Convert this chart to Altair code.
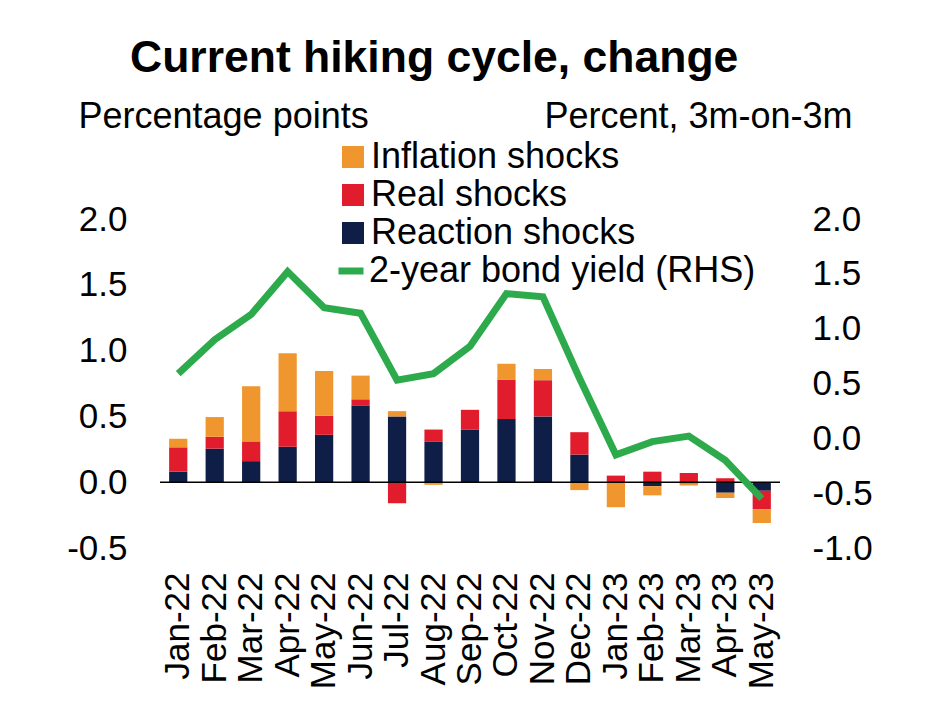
import altair as alt
import pandas as pd

months = ["Jan-22", "Feb-22", "Mar-22", "Apr-22", "May-22", "Jun-22", "Jul-22", "Aug-22",
          "Sep-22", "Oct-22", "Nov-22", "Dec-22", "Jan-23", "Feb-23", "Mar-23", "Apr-23", "May-23"]
reaction = [0.08, 0.255, 0.16, 0.27, 0.36, 0.58, 0.50, 0.31, 0.40, 0.48, 0.50, 0.21,
            0.0, -0.03, -0.01, -0.08, -0.065]
real = [0.185, 0.09, 0.15, 0.27, 0.145, 0.05, -0.16, 0.09, 0.15, 0.30, 0.275, 0.17,
        0.05, 0.08, 0.07, 0.03, -0.14]
inflation = [0.065, 0.15, 0.42, 0.44, 0.34, 0.18, 0.04, -0.02, 0.0, 0.12, 0.085, -0.06,
             -0.19, -0.07, -0.015, -0.04, -0.105]
bond_yield = [0.59, 0.90, 1.13, 1.52, 1.19, 1.14, 0.53, 0.59, 0.84, 1.32, 1.29, 0.55,
              -0.15, -0.03, 0.02, -0.20, -0.55]

series_names = ["Inflation shocks", "Real shocks", "Reaction shocks"]
series_colors = ["#F0962E", "#E11D2D", "#0F1E46"]
line_name = "2-year bond yield (RHS)"
line_color = "#2DAA4B"
left_ticks = [-0.5, 0.0, 0.5, 1.0, 1.5, 2.0]
right_ticks = [-1.0, -0.5, 0.0, 0.5, 1.0, 1.5, 2.0]

FONT = "Liberation Sans"
FS = 35
TFS = 36

rows = []
for i, m in enumerate(months):
    rows.append({"month": m, "series": "Reaction shocks", "value": reaction[i], "ord": 0})
    rows.append({"month": m, "series": "Real shocks", "value": real[i], "ord": 1})
    rows.append({"month": m, "series": "Inflation shocks", "value": inflation[i], "ord": 2})
bars_df = pd.DataFrame(rows)
line_df = pd.DataFrame({"month": months, "yield": bond_yield, "series": [line_name] * len(months)})

label_expr = "(datum.value < 0 ? '-' : '') + format(abs(datum.value), '.1f')"

x_enc = alt.X("month:N", sort=months,
              scale=alt.Scale(paddingInner=0.5, paddingOuter=0.25),
              axis=alt.Axis(title=None, labelAngle=-90, labelAlign="right", labelBaseline="middle",
                            labelPadding=24, ticks=False, domain=False, labelFontSize=FS,
                            labelFont=FONT, labelColor="black", labelLimit=300, grid=False))

left_axis = alt.Axis(values=left_ticks, labelExpr=label_expr, title="Percentage points",
                     titleAngle=0, titleAlign="left", titleBaseline="alphabetic",
                     titleX=-82, titleY=-92, titleFont=FONT, titleFontSize=TFS,
                     titleFontWeight="normal", titleColor="black",
                     labelFont=FONT, labelFontSize=FS, labelColor="black",
                     labelPadding=33, ticks=False, domain=False, grid=False)
left_scale = alt.Scale(domain=[-0.5, 2.0], nice=False, zero=False)

bars = alt.Chart(bars_df).mark_bar().encode(
    x=x_enc,
    y=alt.Y("value:Q", stack="zero", scale=left_scale, axis=left_axis),
    color=alt.Color("series:N",
                    scale=alt.Scale(domain=series_names, range=series_colors),
                    legend=alt.Legend(title=None, orient="none", legendX=175, legendY=-80,
                                      symbolType="square", symbolSize=484, symbolStrokeWidth=0,
                                      labelFont=FONT, labelFontSize=TFS, labelColor="black",
                                      labelLimit=600, labelOffset=0, rowPadding=2, padding=0)),
    order=alt.Order("ord:Q", sort="ascending"),
)

zero = alt.Chart(pd.DataFrame({"value": [0.0]})).mark_rule(color="black", strokeWidth=1.6).encode(
    y=alt.Y("value:Q", scale=left_scale, axis=left_axis)
)

left = alt.layer(bars, zero)

line = alt.Chart(line_df).mark_line(strokeWidth=7, strokeJoin="miter").encode(
    x=alt.X("month:N", sort=months),
    y=alt.Y("yield:Q",
            scale=alt.Scale(domain=[-1.0, 2.0], nice=False, zero=False),
            axis=alt.Axis(orient="right", values=right_ticks, labelExpr=label_expr,
                          title="Percent, 3m-on-3m", titleAngle=0, titleAlign="right",
                          titleBaseline="alphabetic", titleX=72, titleY=-92,
                          titleFont=FONT, titleFontSize=TFS, titleFontWeight="normal",
                          titleColor="black", labelFont=FONT, labelFontSize=FS,
                          labelColor="black", labelPadding=32, ticks=False, domain=False,
                          grid=False)),
    color=alt.Color("series:N",
                    scale=alt.Scale(domain=[line_name], range=[line_color]),
                    legend=alt.Legend(title=None, orient="none", legendX=173, legendY=34,
                                      symbolType="stroke", symbolSize=625, symbolStrokeWidth=7,
                                      labelFont=FONT, labelFontSize=TFS, labelColor="black",
                                      labelLimit=600, labelOffset=0, padding=0)),
)

chart = alt.layer(left, line).resolve_scale(y="independent", color="independent").properties(
    width=620,
    height=329,
    background="white",
    title=alt.TitleParams("Current hiking cycle, change", font=FONT, fontSize=44.5,
                          fontWeight="bold", color="black", anchor="start", frame="group",
                          dx=-30, dy=-17, offset=0),
    autosize=alt.AutoSizeParams(type="none"),
    padding={"left": 160, "top": 219, "right": 160, "bottom": 153},
).configure_view(strokeWidth=0, stroke="transparent")

chart.save("out.html", embed_options={"renderer": "svg", "actions": False})
